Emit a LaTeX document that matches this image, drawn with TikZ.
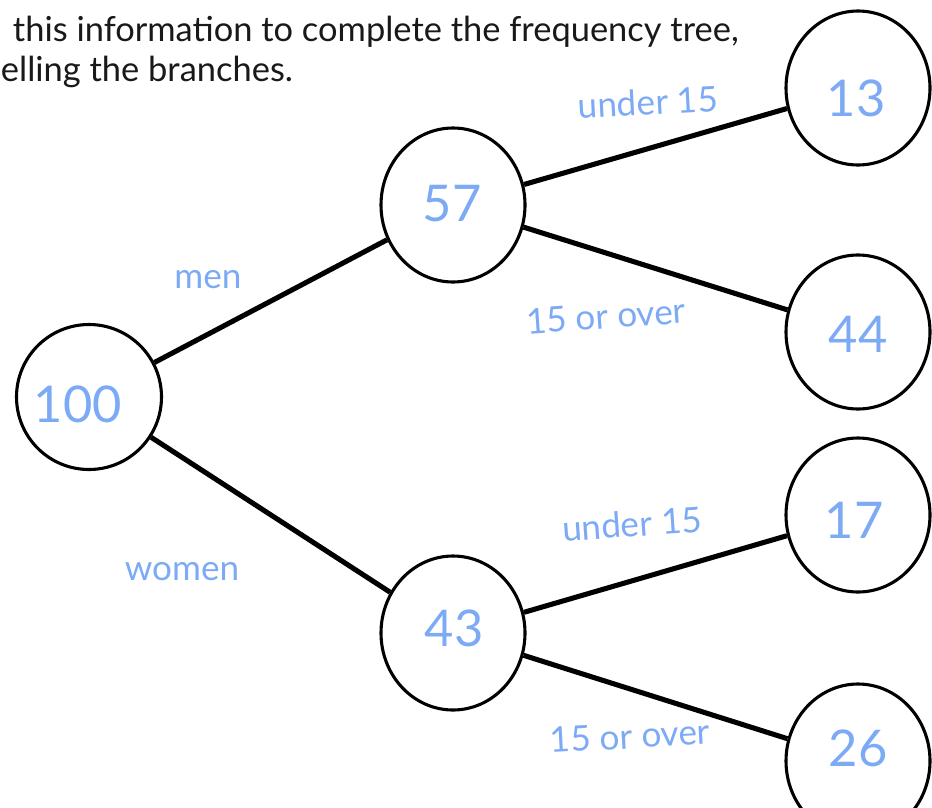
\documentclass[tikz,border=0pt]{standalone}
\usepackage{fontspec}
\setmainfont{Lato}
\usetikzlibrary{shapes.geometric}
\definecolor{penblue}{RGB}{125,170,245}
\begin{document}
\begin{tikzpicture}[
        freq/.style={
            ellipse,
            draw,
            line width=2.2pt,
            minimum width=3.6cm,
            minimum height=3.85cm,
            inner sep=0pt
        },
        number/.style={
            font=\fontsize{36}{36}\selectfont,
            text=penblue
        },
        branch/.style={
            font=\fontsize{25}{25}\selectfont,
            text=penblue
        },
        header/.style={
            anchor=west,
            font=\fontsize{24.5}{28}\selectfont,
            text=black!90
        }
    ]
    \useasboundingbox (0,0) rectangle (23.3,-20.175);

    % Question text
    \node[header] (line1) at (0.2,-0.8) {this information to complete the frequency tree,};
    \node[header] (line2) at (-0.1,-1.8) {elling the branches.};

    % Frequency circles
    \node[freq, minimum height=3.625cm, minimum width=3.625cm] (total) at (2.225,-9.925) {};
    \node[freq] (men) at (11.325,-5.125) {};
    \node[freq] (women) at (11.325,-15.825) {};
    \node[freq] (menunder) at (21.45,-2.2) {};
    \node[freq] (menover) at (21.45,-8.3) {};
    \node[freq] (womenunder) at (21.45,-12.875) {};
    \node[freq] (womenover) at (21.45,-19.025) {};

    % Numbers
    \node[number] (ntotal) at (1.95,-10.1) {100};
    \node[number] (nmen) at (11.3,-5.1) {57};
    \node[number] (nwomen) at (11.35,-15.7) {43};
    \node[number] (nmenunder) at (21.4,-2.45) {13};
    \node[number] (nmenover) at (21.45,-8.35) {44};
    \node[number] (nwomenunder) at (21.35,-13.0) {17};
    \node[number] (nwomenover) at (21.45,-18.7) {26};

    % Branches
    \draw[line width=3.6pt] (total) -- (men);
    \draw[line width=3.6pt] (total) -- (women);
    \draw[line width=3.6pt] (men) -- (menunder);
    \draw[line width=3.6pt] (men) -- (menover);
    \draw[line width=3.6pt] (women) -- (womenunder);
    \draw[line width=3.6pt] (women) -- (womenover);

    % Branch labels
    \node[branch] (lmen) at (5.2,-7.0) {men};
    \node[branch] (lwomen) at (4.55,-14.3) {women};
    \node[branch, rotate=3] (lmenunder) at (16.2,-2.55) {under 15};
    \node[branch, rotate=4] (lmenover) at (15.15,-7.9) {15 or over};
    \node[branch, rotate=4] (lwomenunder) at (15.8,-13.1) {under 15};
    \node[branch, rotate=3] (lwomenover) at (15.75,-18.4) {15 or over};

\end{tikzpicture}
\end{document}
